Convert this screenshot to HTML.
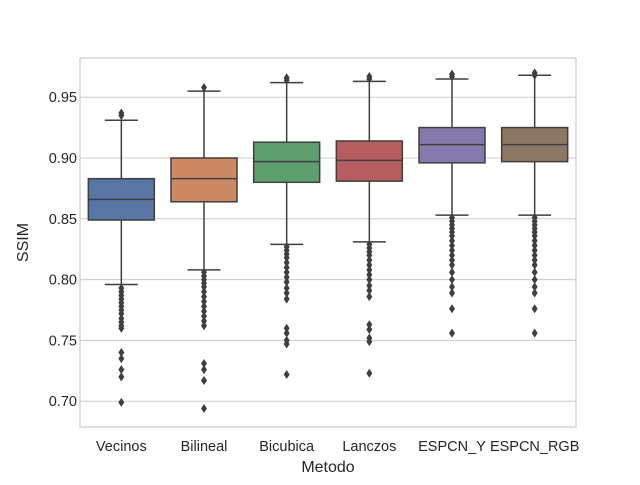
<!DOCTYPE html>
<html><head><meta charset="utf-8"><style>
body{margin:0;background:#fff;}
svg text{font-family:"Liberation Sans",Arial,sans-serif;fill:#262626;}
</style></head><body>
<svg id="chart" width="640" height="480" xmlns="http://www.w3.org/2000/svg"></svg>
<script>
const categories=["Vecinos","Bilineal","Bicubica","Lanczos","ESPCN_Y","ESPCN_RGB"];
const q1=[0.849,0.864,0.880,0.881,0.896,0.897];
const medians=[0.866,0.883,0.897,0.898,0.911,0.911];
const q3=[0.883,0.900,0.913,0.914,0.925,0.925];
const whiskerLow=[0.796,0.808,0.829,0.831,0.853,0.853];
const whiskerHigh=[0.931,0.955,0.962,0.963,0.965,0.968];
const outliers=[
 [0.937,0.935,0.793,0.790,0.787,0.784,0.781,0.778,0.775,0.772,0.768,0.765,0.762,0.760,0.740,0.735,0.726,0.720,0.699],
 [0.958,0.806,0.803,0.800,0.797,0.794,0.790,0.786,0.782,0.778,0.774,0.770,0.766,0.762,0.731,0.726,0.717,0.694],
 [0.966,0.964,0.827,0.824,0.821,0.818,0.814,0.810,0.806,0.802,0.798,0.793,0.789,0.784,0.760,0.756,0.750,0.747,0.722],
 [0.967,0.965,0.829,0.826,0.823,0.820,0.816,0.812,0.808,0.804,0.800,0.795,0.791,0.786,0.763,0.759,0.752,0.749,0.723],
 [0.969,0.967,0.851,0.848,0.845,0.842,0.839,0.836,0.832,0.828,0.824,0.820,0.816,0.812,0.806,0.800,0.794,0.789,0.776,0.756],
 [0.970,0.968,0.851,0.848,0.845,0.842,0.839,0.836,0.832,0.828,0.824,0.820,0.816,0.812,0.806,0.800,0.794,0.789,0.776,0.756]
];
const yTicks=[0.70,0.75,0.80,0.85,0.90,0.95];
const colors=["#5875a4","#cc8963","#5f9e6e","#b55d60","#857aab","#8d7866"];

const svg=document.getElementById('chart');
const NS="http://www.w3.org/2000/svg";
const L=80,R=576,T=58,B=427;
function y(v){return 158+(0.90-v)/0.05*60.8;}
function xc(i){return L+(R-L)/categories.length*(i+0.5);}
function mk(tag,attrs,parent){const e=document.createElementNS(NS,tag);for(const k in attrs)e.setAttribute(k,attrs[k]);(parent||svg).appendChild(e);return e;}

yTicks.forEach(t=>{
 const g=mk('line',{x1:L,x2:R,y1:y(t),y2:y(t),stroke:'#cccccc','stroke-width':1});
 
 
 const tx=mk('text',{x:L-3,y:y(t)+5,'text-anchor':'end','font-size':14.5});
 tx.textContent=t.toFixed(2);
 
 
});
const frame=mk('rect',{x:L,y:T,width:R-L,height:B-T,fill:'none',stroke:'#cccccc','stroke-width':1.2});



const bw=66,lc='#3f3f3f';
categories.forEach((c,i)=>{
 const cx=xc(i);
 const g=mk('g',{});
 
 
 mk('line',{x1:cx,x2:cx,y1:y(q3[i]),y2:y(whiskerHigh[i]),stroke:lc,'stroke-width':1.5},g);
 mk('line',{x1:cx,x2:cx,y1:y(q1[i]),y2:y(whiskerLow[i]),stroke:lc,'stroke-width':1.5},g);
 mk('line',{x1:cx-bw/4,x2:cx+bw/4,y1:y(whiskerHigh[i]),y2:y(whiskerHigh[i]),stroke:lc,'stroke-width':1.5},g);
 mk('line',{x1:cx-bw/4,x2:cx+bw/4,y1:y(whiskerLow[i]),y2:y(whiskerLow[i]),stroke:lc,'stroke-width':1.5},g);
 mk('rect',{x:cx-bw/2,y:y(q3[i]),width:bw,height:y(q1[i])-y(q3[i]),fill:colors[i],stroke:lc,'stroke-width':1.5},g);
 mk('line',{x1:cx-bw/2,x2:cx+bw/2,y1:y(medians[i]),y2:y(medians[i]),stroke:lc,'stroke-width':1.5},g);
 outliers[i].forEach(v=>{
  const yy=y(v);
  const d=mk('path',{d:`M${cx} ${yy-4.5}L${cx+3} ${yy}L${cx} ${yy+4.5}L${cx-3} ${yy}Z`,fill:lc},g);
  
  
 });
 const tx=mk('text',{x:cx,y:451,'text-anchor':'middle','font-size':14.5});
 tx.textContent=c;
 
 
});
const xl=mk('text',{x:(L+R)/2,y:472,'text-anchor':'middle','font-size':16});
xl.textContent='Metodo';


const yl=mk('text',{x:0,y:0,'text-anchor':'middle','font-size':16,transform:`translate(28,${(T+B)/2}) rotate(-90)`});
yl.textContent='SSIM';


</script>
</body></html>
